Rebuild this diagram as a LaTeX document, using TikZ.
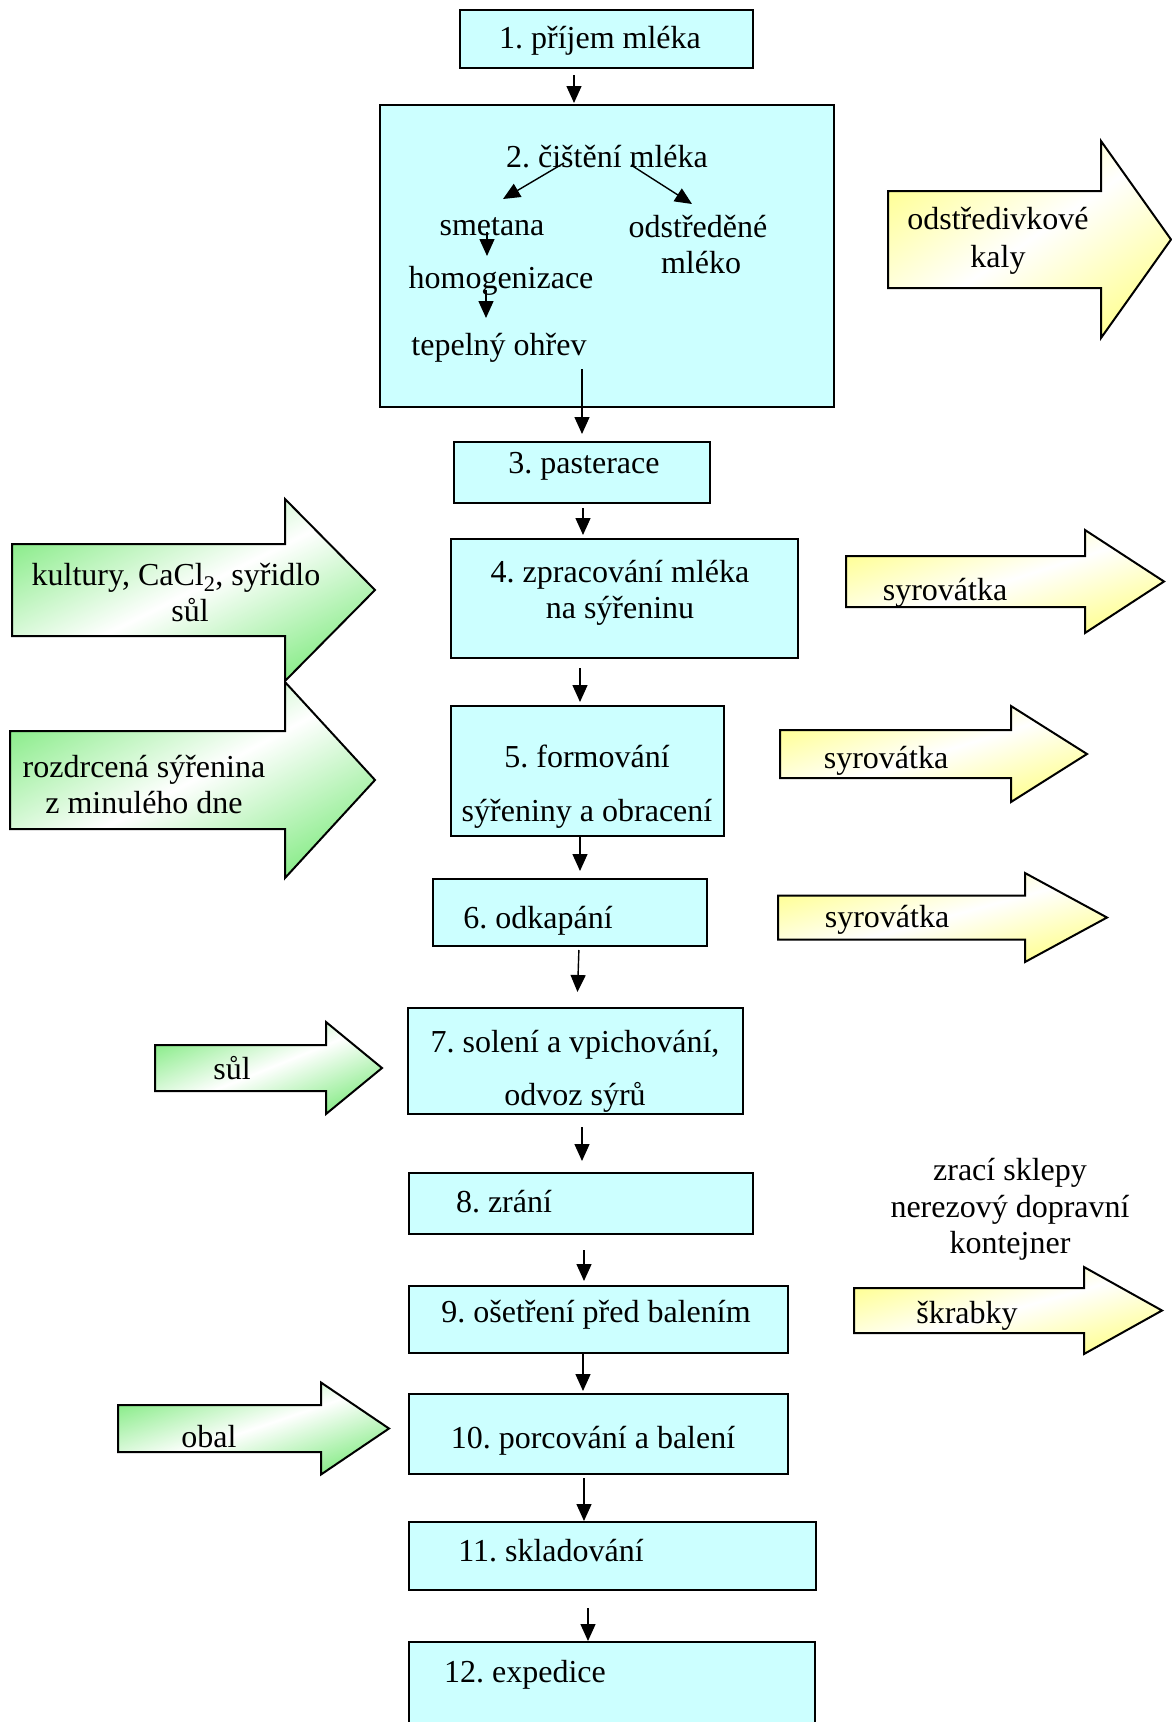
\documentclass[tikz,border=0pt]{standalone}
\usepackage{fontspec}
\setmainfont{Liberation Serif}
\frenchspacing
\usetikzlibrary{arrows.meta}
\definecolor{boxfill}{RGB}{204,255,255}
\definecolor{gfill}{RGB}{100,230,100}
\definecolor{yfill}{RGB}{255,255,115}
% block arrow: colour, x left, x head, x tip, y tip, half body, half head
\newcommand\blockarrow[7]{%
  \pgfmathsetmacro\bxs{(#4-#2)/100}%
  \pgfmathsetmacro\bys{(#7)/50}%
  \begin{scope}
    \clip (#2,#5-#6) -- (#3,#5-#6) -- (#3,#5-#7) -- (#4,#5) -- (#3,#5+#7) -- (#3,#5+#6) -- (#2,#5+#6) -- cycle;
    \shade[transform canvas={shift={(#2,#5-#7)}, xscale=\bxs, yscale=\bys, shift={(50,50)}, rotate=45},
      top color=#1, bottom color=#1, middle color=white] (-70.72,-70.72) rectangle (70.72,70.72);
  \end{scope}
  \draw[blockline] (#2,#5-#6) -- (#3,#5-#6) -- (#3,#5-#7) -- (#4,#5) -- (#3,#5+#7) -- (#3,#5+#6) -- (#2,#5+#6) -- cycle;
}
\begin{document}
\begin{tikzpicture}[x=1pt,y=-1pt,
  stepbox/.style={draw, line width=2pt, fill=boxfill, inner sep=0pt},
  txt/.style={inner sep=0pt, anchor=base, font=\fontsize{32}{37}\selectfont},
  flow/.style={-{Triangle[length=17pt,width=15pt]}, line width=1.4pt},
  blockline/.style={draw, line width=2pt, line join=miter}]
\useasboundingbox (0,0) rectangle (1172,1722);

\node[stepbox, minimum width=293pt, minimum height=58pt] (b1) at (606.5,39) {};
\node[stepbox, minimum width=454pt, minimum height=302pt] (b2) at (607,256) {};
\node[stepbox, minimum width=256pt, minimum height=61pt] (b3) at (582,472.5) {};
\node[stepbox, minimum width=347pt, minimum height=119pt] (b4) at (624.5,598.5) {};
\node[stepbox, minimum width=273pt, minimum height=130pt] (b5) at (587.5,771) {};
\node[stepbox, minimum width=274pt, minimum height=67pt] (b6) at (570,912.5) {};
\node[stepbox, minimum width=335pt, minimum height=106pt] (b7) at (575.5,1061) {};
\node[stepbox, minimum width=344pt, minimum height=61pt] (b8) at (581,1203.5) {};
\node[stepbox, minimum width=379pt, minimum height=67pt] (b9) at (598.5,1319.5) {};
\node[stepbox, minimum width=379pt, minimum height=80pt] (b10) at (598.5,1434) {};
\node[stepbox, minimum width=407pt, minimum height=68pt] (b11) at (612.5,1556) {};
\node[stepbox, minimum width=406pt, minimum height=118pt] (b12) at (612,1701) {};

\node[txt] (t1) at (600,48) {1. příjem mléka};
\node[txt] (cis) at (607,167) {2. čištění mléka};
\node[txt] (sm) at (492,235) {smetana};
\node[txt] (ods) at (698,237) {odstředěné};
\node[txt] (odsb) at (701,273) {mléko};
\node[txt] (hom) at (501,288) {homogenizace};
\node[txt] (tep) at (499,355) {tepelný ohřev};
\node[txt] (t3) at (584,473) {3. pasterace};
\node[txt] (t4a) at (620,582) {4. zpracování mléka};
\node[txt] (t4b) at (620,618) {na sýřeninu};
\node[txt] (t5a) at (587,767) {5. formování};
\node[txt] (t5b) at (587,821) {sýřeniny a obracení};
\node[txt] (t6) at (538,928) {6. odkapání};
\node[txt] (t7a) at (575,1052) {7. solení a vpichování,};
\node[txt] (t7b) at (575,1105) {odvoz sýrů};
\node[txt] (t8) at (504,1212) {8. zrání};
\node[txt] (t9) at (596,1322) {9. ošetření před balením};
\node[txt] (t10) at (593,1448) {10. porcování a balení};
\node[txt] (t11) at (551,1561) {11. skladování};
\node[txt] (t12) at (525,1682) {12. expedice};

\draw[flow] ([xshift=-43pt,yshift=4pt]cis.base) -- ([xshift=11pt,yshift=36pt]sm.base);
\draw[flow] ([xshift=24pt,yshift=2pt]cis.base) -- ([xshift=-6pt,yshift=33pt]ods.base);
\draw[flow] ([xshift=-5pt,yshift=3pt]sm.base) -- ([xshift=-14pt,yshift=32pt]hom.base);
\draw[flow] ([xshift=-15pt,yshift=-2pt]hom.base) -- ([xshift=-13pt,yshift=37pt]tep.base);

\draw[flow, shorten <=6pt, shorten >=1pt] (b1.south -| 574,0) -- (b2.north -| 574,0);
\draw[flow, shorten <=7pt, shorten >=7pt] (tep.south -| b3.north) -- (b3.north);
\draw[flow, shorten <=4pt, shorten >=3pt] (b3.south -| 583,0) -- (b4.north -| 583,0);
\draw[flow, shorten <=9pt, shorten >=3pt] (b4.south -| 580,0) -- (b5.north -| 580,0);
\draw[flow, shorten >=7pt] (b5.south -| 580,0) -- (b6.north -| 580,0);
\draw[flow, shorten <=3pt, shorten >=15pt] (b6.south -| 579,0) -- (b7.north -| 577,0);
\draw[flow, shorten <=12pt, shorten >=11pt] (b7.south -| 582,0) -- (b8.north -| 582,0);
\draw[flow, shorten <=15pt, shorten >=4pt] (b8.south -| 584,0) -- (b9.north -| 584,0);
\draw[flow, shorten >=2pt] (b9.south -| 583,0) -- (b10.north -| 583,0);
\draw[flow, shorten <=3pt] (b10.south -| 584,0) -- (b11.north -| 584,0);
\draw[flow, shorten <=17pt] (b11.south -| 588,0) -- (b12.north -| 588,0);

\blockarrow{yfill}{888}{1101}{1171}{239.5}{48.5}{98.5}
\blockarrow{gfill}{12}{285}{375}{590}{46}{91}
\blockarrow{gfill}{10}{285}{375}{780}{49}{98}
\blockarrow{yfill}{846}{1085}{1164}{581.5}{25.5}{51.5}
\blockarrow{yfill}{780}{1011}{1087}{754}{24}{48}
\blockarrow{yfill}{778}{1025}{1107}{917.5}{22}{44.5}
\blockarrow{gfill}{155}{326}{382}{1068}{23}{46}
\blockarrow{yfill}{854}{1084}{1162}{1310.5}{22.5}{43.5}
\blockarrow{gfill}{118}{321}{389}{1428.5}{23.5}{46}

\node[txt] (kal1) at (998,229) {odstředivkové};
\node[txt] (kal2) at (998,267) {kaly};
\node[txt] (kul1) at (176,585) {kultury, CaCl\textsubscript{2}, syřidlo};
\node[txt] (kul2) at (190,621) {sůl};
\node[txt] (roz1) at (144,777) {rozdrcená sýřenina};
\node[txt] (roz2) at (144,813) {z minulého dne};
\node[txt] (sy1) at (945,600) {syrovátka};
\node[txt] (sy2) at (886,768) {syrovátka};
\node[txt] (sy3) at (887,927) {syrovátka};
\node[txt] (sul) at (232,1079) {sůl};
\node[txt] (zr1) at (1010,1180) {zrací sklepy};
\node[txt] (zr2) at (1010,1217) {nerezový dopravní};
\node[txt] (zr3) at (1010,1253) {kontejner};
\node[txt] (skr) at (967,1323) {škrabky};
\node[txt] (obal) at (209,1447) {obal};
\end{tikzpicture}
\end{document}
